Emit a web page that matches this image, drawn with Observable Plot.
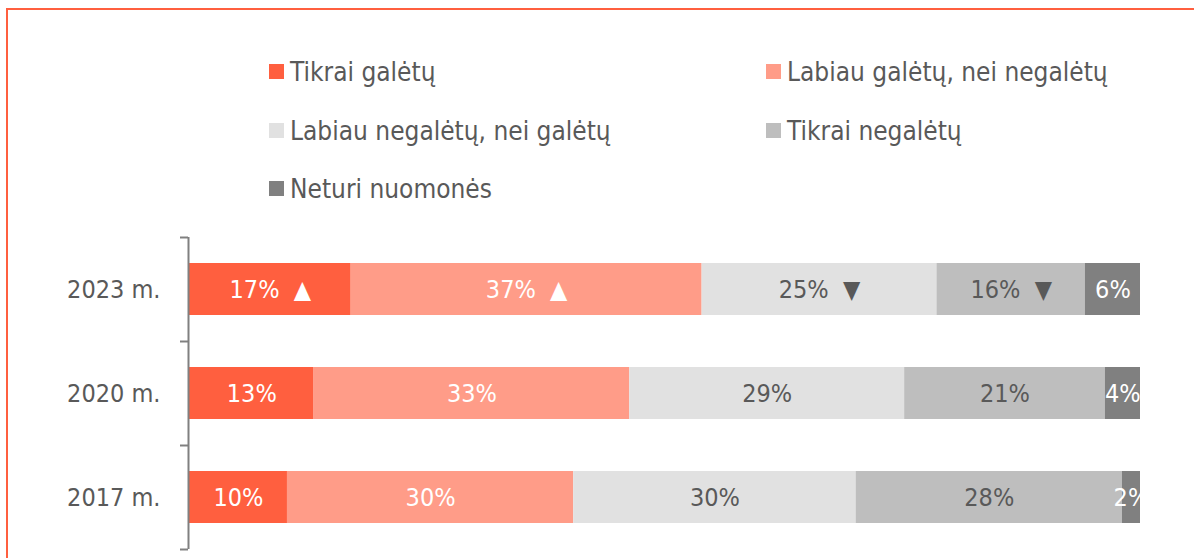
<!DOCTYPE html>
<html>
<head>
<meta charset="utf-8">
<script src="https://cdn.jsdelivr.net/npm/d3@7"></script>
<script src="https://cdn.jsdelivr.net/npm/@observablehq/plot@0.6"></script>
<style>
  html, body { margin: 0; padding: 0; background: #fff; }
  body { width: 1194px; height: 558px; position: relative; overflow: hidden;
         font-family: "DejaVu Sans Condensed", "DejaVu Sans", sans-serif; font-stretch: condensed; }
  #frame { position: absolute; left: 6px; top: 8px; width: 1300px; height: 700px;
           border-left: 2px solid #FF5F3F; border-top: 2px solid #FF5F3F; }
  .leg { position: absolute; display: flex; align-items: center; font-size: 26px; color: #595959; white-space: nowrap; }
  .leg .sw { width: 15px; height: 15px; margin-right: 6px; flex: none; }
  #chart { position: absolute; left: 0; top: 220px; }
</style>
</head>
<body>
<div id="frame"></div>
<div id="legend"></div>
<div id="chart"></div>
<script>
const years = ["2023 m.", "2020 m.", "2017 m."];
const categories = ["Tikrai galėtų", "Labiau galėtų, nei negalėtų", "Labiau negalėtų, nei galėtų", "Tikrai negalėtų", "Neturi nuomonės"];
const colors = ["#FF5F3F", "#FF9C88", "#E1E1E1", "#BEBEBE", "#808080"];
const labelColors = ["#FFFFFF", "#FFFFFF", "#595959", "#595959", "#FFFFFF"];
const values = {
  "2023 m.": [17.0, 36.9, 24.7, 15.6, 5.8],
  "2020 m.": [13.1, 33.2, 28.9, 21.1, 3.7],
  "2017 m.": [10.3, 30.1, 29.7, 28.0, 1.9]
};
const labels = {
  "2023 m.": ["17%", "37%", "25%", "16%", "6%"],
  "2020 m.": ["13%", "33%", "29%", "21%", "4%"],
  "2017 m.": ["10%", "30%", "30%", "28%", "2%"]
};
const changes = {
  "2023 m.": ["▲", "▲", "▼", "▼", ""],
  "2020 m.": ["", "", "", "", ""],
  "2017 m.": ["", "", "", "", ""]
};

// legend
const legendPos = [[269, 64], [766, 64], [269, 123], [766, 123], [269, 181]];
const legend = document.getElementById("legend");
categories.forEach((c, i) => {
  const el = document.createElement("div");
  el.className = "leg";
  el.style.left = legendPos[i][0] + "px";
  el.style.top = (legendPos[i][1] - 8) + "px";
  el.style.height = "31px";
  el.innerHTML = `<span class="sw" style="background:${colors[i]}"></span><span>${c}</span>`;
  legend.appendChild(el);
});

// data table
const rows = [];
years.forEach((y, yi) => {
  const v = values[y];
  const cs = d3.cumsum(v);
  v.forEach((val, k) => {
    const x1 = cs[k] - val, x2 = cs[k];
    rows.push({
      year: y, yi, cat: categories[k], k,
      x1, x2, xm: (x1 + x2) / 2,
      label: labels[y][k] + (changes[y][k] ? "  " + changes[y][k] : ""),
      fill: colors[k], tcolor: labelColors[k]
    });
  });
});

const chart = Plot.plot({
  width: 1194,
  height: 338,
  marginTop: 17,
  marginBottom: 9,
  marginLeft: 189,
  marginRight: 54,
  style: { fontFamily: '"DejaVu Sans Condensed", "DejaVu Sans", sans-serif', fontStretch: "condensed", fontSize: "25px", color: "#595959", background: "transparent" },
  x: { domain: [0, 100], axis: null },
  y: { domain: [0, 3], reverse: true, axis: null },
  marks: [
    Plot.rectX(rows, { x1: "x1", x2: "x2", y1: d => d.yi + 0.25, y2: d => d.yi + 0.75, fill: "fill" }),
    Plot.text(rows, { x: "xm", y: d => d.yi + 0.5, text: "label", fill: "tcolor", fontSize: 25, clip: true }),
    Plot.axisY({ ticks: [0.5, 1.5, 2.5], tickSize: 0, tickPadding: 29, tickFormat: d => years[Math.floor(d)], fontSize: 25, fill: "#595959" }),
    Plot.axisY({ ticks: [0, 1, 2, 3], tickSize: 8, tickFormat: () => "", stroke: "#808080", strokeWidth: 2, dx: -1 }),
    Plot.ruleX([0], { y1: 0, y2: 3, stroke: "#808080", strokeWidth: 2, dx: -1 })
  ]
});
document.getElementById("chart").appendChild(chart);
</script>
</body>
</html>
